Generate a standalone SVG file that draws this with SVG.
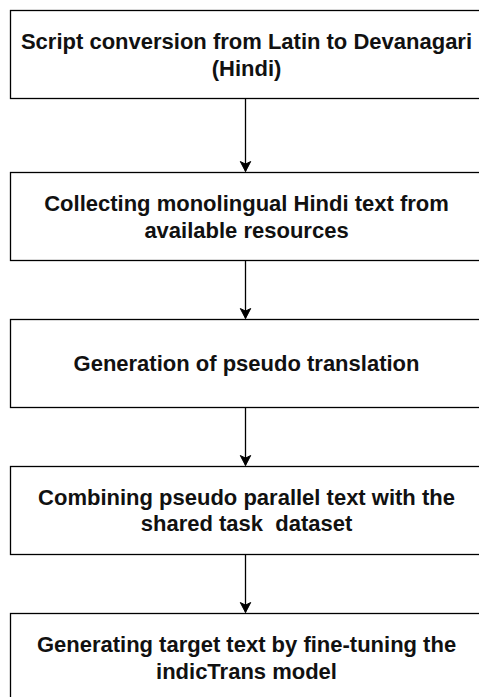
<svg xmlns="http://www.w3.org/2000/svg" width="479" height="697" viewBox="0 0 479 697">
<defs>
<style>
.box{fill:#fff;stroke:#000;stroke-width:1.3}
.lbl{font-family:"Liberation Sans",Arial,sans-serif;font-size:22px;font-weight:bold;fill:#111;text-anchor:middle}
.edge{stroke:#000;stroke-width:1.3;fill:none}
</style>
<marker id="arr" markerWidth="14" markerHeight="14" viewBox="0 0 14 14" refX="12" refY="7" orient="auto" markerUnits="userSpaceOnUse">
<path d="M12,7 L2,1.8 L4.6,7 L2,12.2 Z" fill="#000" stroke="#000" stroke-width="1"/>
</marker>
</defs>
<rect width="479" height="697" fill="#fff"/>
<g id="connectors">
<line class="edge" x1="245.5" y1="98.5" x2="245.5" y2="171.5" marker-end="url(#arr)"/>
<line class="edge" x1="245.5" y1="260.5" x2="245.5" y2="318.5" marker-end="url(#arr)"/>
<line class="edge" x1="245.5" y1="407.5" x2="245.5" y2="465.5" marker-end="url(#arr)"/>
<line class="edge" x1="245.5" y1="554.5" x2="245.5" y2="612.5" marker-end="url(#arr)"/>
</g>
<g id="n1">
<rect class="box" x="10.5" y="10.5" width="470" height="88"/>
<text class="lbl" x="246.5" y="48.5">Script conversion from Latin to Devanagari</text>
<text class="lbl" x="246.5" y="75.5">(Hindi)</text>
</g>
<g id="n2">
<rect class="box" x="10.5" y="172.5" width="470" height="88"/>
<text class="lbl" x="246.5" y="211">Collecting monolingual Hindi text from</text>
<text class="lbl" x="246.5" y="237.5">available resources</text>
</g>
<g id="n3">
<rect class="box" x="10.5" y="319.5" width="470" height="88"/>
<text class="lbl" x="246.5" y="371">Generation of pseudo translation</text>
</g>
<g id="n4">
<rect class="box" x="10.5" y="466.5" width="470" height="88"/>
<text class="lbl" x="246.5" y="504.5">Combining pseudo parallel text with the</text>
<text class="lbl" x="246.5" y="531" xml:space="preserve">shared task  dataset</text>
</g>
<g id="n5">
<rect class="box" x="10.5" y="613.5" width="470" height="88"/>
<text class="lbl" x="246.5" y="652">Generating target text by fine-tuning the</text>
<text class="lbl" x="246.5" y="679">indicTrans model</text>
</g>
</svg>
